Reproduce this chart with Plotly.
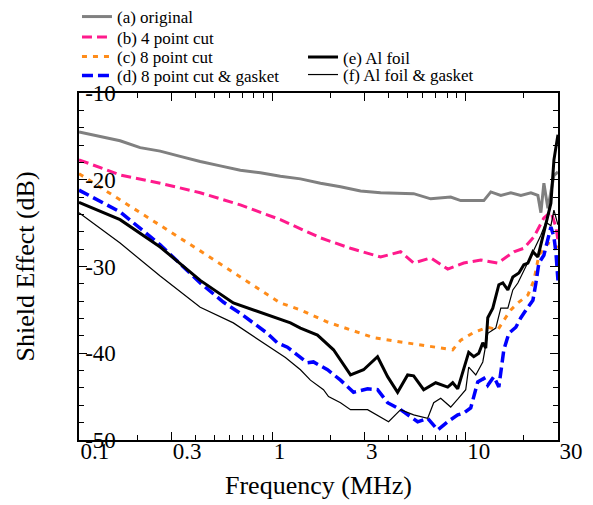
import plotly.graph_objects as go

# ---- data (frequency in MHz, shield effect in dB) ----
freq_a = [0.1, 0.1285, 0.1631, 0.2071, 0.2629, 0.3337, 0.4236, 0.5378, 0.6828, 0.8667, 1.1, 1.397,
          1.774, 2.251, 2.858, 3.628, 4.605, 5.378, 6.589, 8.361, 9.421, 12.40, 13.48, 15.18, 17.11,
          19.28, 21.72, 23.61, 24.47, 25.36, 26.60, 28.58, 29.98]
db_a = [-14.5, -15.0, -15.5, -16.3, -16.7, -17.3, -17.9, -18.4, -18.9, -19.2, -19.6, -19.9,
        -20.4, -20.8, -21.3, -21.5, -21.6, -21.6, -22.2, -22.0, -22.4, -22.4, -21.4, -21.8, -21.5,
        -21.8, -21.5, -21.8, -23.8, -20.4, -23.3, -19.5, -19.1]

freq_b = [0.1, 0.1631, 0.2629, 0.4236, 0.6828, 1.1, 1.774, 2.536, 3.628, 4.605, 5.378, 6.589,
          8.067, 9.763, 11.96, 14.65, 17.74, 19.98, 22.51, 25.36, 27.57, 29.27, 29.98]
db_b = [-17.7, -19.45, -20.4, -21.5, -22.9, -24.6, -26.7, -27.9, -28.9, -28.3, -29.6, -29.0,
        -30.3, -29.6, -29.25, -29.6, -28.3, -27.9, -26.6, -24.4, -23.7, -25.45, -27.0]

freq_c = [0.1, 0.1631, 0.2629, 0.4236, 0.6828, 1.1, 1.397, 1.928, 2.536, 3.337, 4.605, 6.828,
          8.563, 9.421, 11.00, 13.00, 14.65, 15.74, 17.11, 18.60, 20.96, 22.51, 23.89, 26.60, 29.98]
db_c = [-19.3, -22.3, -25.3, -28.2, -31.2, -34.2, -35.0, -36.4, -37.3, -38.2, -38.7, -39.3,
        -39.6, -38.5, -37.6, -37.0, -37.3, -36.2, -35.0, -34.2, -33.3, -31.6, -28.7, -27.3, -27.8]

freq_d = [0.1, 0.1631, 0.2629, 0.4236, 0.5574, 0.6828, 0.9421, 1.0615, 1.196, 1.348, 1.518, 1.631,
          1.928, 2.251, 2.629, 3.107, 3.499, 3.944, 4.605, 5.641, 6.356, 7.161, 8.067, 9.090, 9.763,
          10.61, 11.54, 12.40, 13.00, 13.97, 14.83, 15.74, 16.71, 18.16, 19.28, 20.96, 22.25, 23.06,
          23.89, 25.36, 26.60, 27.57, 28.58, 29.27, 29.98]
db_d = [-21.2, -23.7, -27.5, -31.9, -34.1, -35.4, -37.7, -38.8, -39.3, -40.2, -41.1, -41.0,
        -41.9, -43.1, -44.5, -44.1, -44.2, -45.7, -46.5, -47.9, -47.5, -48.85, -47.9, -47.1, -46.9,
        -46.3, -43.3, -42.9, -43.7, -42.7, -43.9, -39.6, -37.7, -37.0, -35.9, -34.7, -33.9, -31.9,
        -29.6, -28.7, -26.9, -25.45, -26.6, -28.4, -31.6]

freq_e = [0.1, 0.1631, 0.2629, 0.4236, 0.6281, 0.9421, 1.240, 1.397, 1.711, 2.071, 2.536, 2.962,
          3.499, 3.944, 4.443, 5.006, 5.378, 6.060, 6.993, 8.067, 8.563, 9.090, 9.650, 10.36, 11.00,
          11.68, 12.25, 12.69, 13.00, 13.80, 14.83, 15.55, 16.51, 17.52, 18.83, 19.98, 20.96, 22.25,
          23.61, 25.36, 27.57, 28.58, 29.98]
db_e = [-22.6, -24.6, -27.75, -31.6, -34.2, -35.6, -36.5, -37.1, -37.9, -39.6, -42.5, -41.9,
        -40.4, -42.7, -44.5, -42.5, -42.6, -44.2, -43.4, -43.9, -43.4, -44.1, -42.2, -39.9, -40.4,
        -40.0, -38.8, -39.4, -35.9, -34.8, -32.1, -31.9, -32.7, -31.2, -30.75, -29.8, -29.6, -28.3,
        -28.9, -26.1, -22.7, -17.7, -14.8]

freq_f = [0.1, 0.1631, 0.2629, 0.4236, 0.6281, 0.9421, 1.168, 1.397, 1.573, 1.838, 1.951, 2.251,
          2.536, 3.107, 3.990, 4.605, 5.378, 6.356, 6.828, 7.423, 8.361, 9.090, 10.0, 10.36, 11.27,
          12.25, 13.00, 14.30, 15.18, 16.51, 17.52, 18.60, 19.98, 20.96, 22.51, 24.47, 25.97, 27.57,
          28.58, 29.98]
db_f = [-23.8, -27.3, -31.1, -34.7, -36.5, -39.05, -40.5, -41.9, -43.1, -44.2, -45.0, -45.7,
        -46.5, -46.5, -47.9, -46.5, -47.1, -47.5, -45.7, -45.2, -46.2, -45.3, -44.2, -41.6, -42.5,
        -41.0, -37.7, -37.1, -34.8, -34.8, -32.7, -31.9, -30.4, -29.5, -28.1, -26.4, -24.9, -25.3,
        -23.5, -25.2]

names = ["(a) original", "(b) 4 point cut", "(c) 8 point cut", "(d) 8 point cut &amp; gasket",
         "(e) Al foil", "(f) Al foil &amp; gasket"]

x_tickvals = [0.1, 0.3, 1, 3, 10, 30]
x_ticktext = ["0.1", "0.3", "1", "3", "10", "30"]
x_minor = [0.2, 0.4, 0.5, 0.6, 0.7, 0.8, 0.9, 2, 4, 5, 6, 7, 8, 9, 20]
y_tickvals = [-50, -40, -30, -20, -10]
y_ticktext = ["-50", "-40", "-30", "-20", "-10"]
x_title = "Frequency (MHz)"
y_title = "Shield Effect (dB)"

FONT = "Liberation Serif"

styles = [
    dict(color="#808080", width=3),
    dict(color="#ff1a8c", width=3, dash="10px,5px"),
    dict(color="#ff8c1a", width=3, dash="5px,6px"),
    dict(color="#0000ff", width=3.5, dash="11px,5px"),
    dict(color="#000000", width=3),
    dict(color="#000000", width=1.2),
]
series = [(freq_a, db_a), (freq_b, db_b), (freq_c, db_c), (freq_d, db_d), (freq_e, db_e), (freq_f, db_f)]
legend_ids = ["legend", "legend2", "legend3", "legend4", "legend5", "legend6"]

fig = go.Figure()
for (fx, fy), nm, ln, lg in zip(series, names, styles, legend_ids):
    fig.add_trace(go.Scatter(x=fx, y=fy, mode="lines", name=nm, line=ln, legend=lg,
                             showlegend=True))

axis_common = dict(
    showline=True, linecolor="black", linewidth=1.5, mirror="ticks",
    ticks="inside", tickcolor="black", tickwidth=1.3, ticklen=8,
    showgrid=False, zeroline=False,
    tickfont=dict(family=FONT, size=23, color="black"),
    title_font=dict(family=FONT, size=26, color="black"),
)

fig.update_xaxes(
    type="log", range=[-1, 1.4771],
    tickvals=x_tickvals, ticktext=x_ticktext,
    ticklabelposition="outside right", ticklabeloverflow="allow", ticklabelstandoff=-10,
    minor=dict(tickvals=x_minor, ticks="inside", ticklen=5, tickcolor="black", tickwidth=1.2),
    title=dict(text=x_title, standoff=12),
    **axis_common,
)
fig.update_yaxes(
    range=[-50, -10],
    tickvals=y_tickvals, ticktext=y_ticktext,
    ticklabelposition="inside", ticklabeloverflow="allow",
    minor=dict(dtick=2, ticks="inside", ticklen=5, tickcolor="black", tickwidth=1.2),
    **axis_common,
)

fig.add_annotation(text=y_title, xref="paper", yref="paper", x=-0.1127, y=0.5,
                   xanchor="center", yanchor="middle", textangle=-90, showarrow=False,
                   font=dict(family=FONT, size=26, color="black"))

legend_font = dict(family=FONT, size=17, color="black")
# legend rows, in container fractions: (x of left edge, y of row centre)
legend_pos = [(0.1298, 0.9663), (0.1298, 0.9257), (0.1298, 0.8871), (0.1298, 0.8495),
              (0.511, 0.8861), (0.511, 0.8515)]
layout_legends = {}
for lg, (lx, ly) in zip(legend_ids, legend_pos):
    layout_legends[lg] = dict(x=lx, y=ly, xref="container", yref="container",
                              xanchor="left", yanchor="middle", font=legend_font,
                              bgcolor="rgba(0,0,0,0)", borderwidth=0, tracegroupgap=0,
                              visible=True)

fig.update_layout(
    width=593, height=505,
    showlegend=True,
    margin=dict(l=79, r=35, t=93, b=65, autoexpand=False),
    paper_bgcolor="white", plot_bgcolor="white",
    font=dict(family=FONT, color="black"),
    **layout_legends,
)

fig.write_html("out.html")
